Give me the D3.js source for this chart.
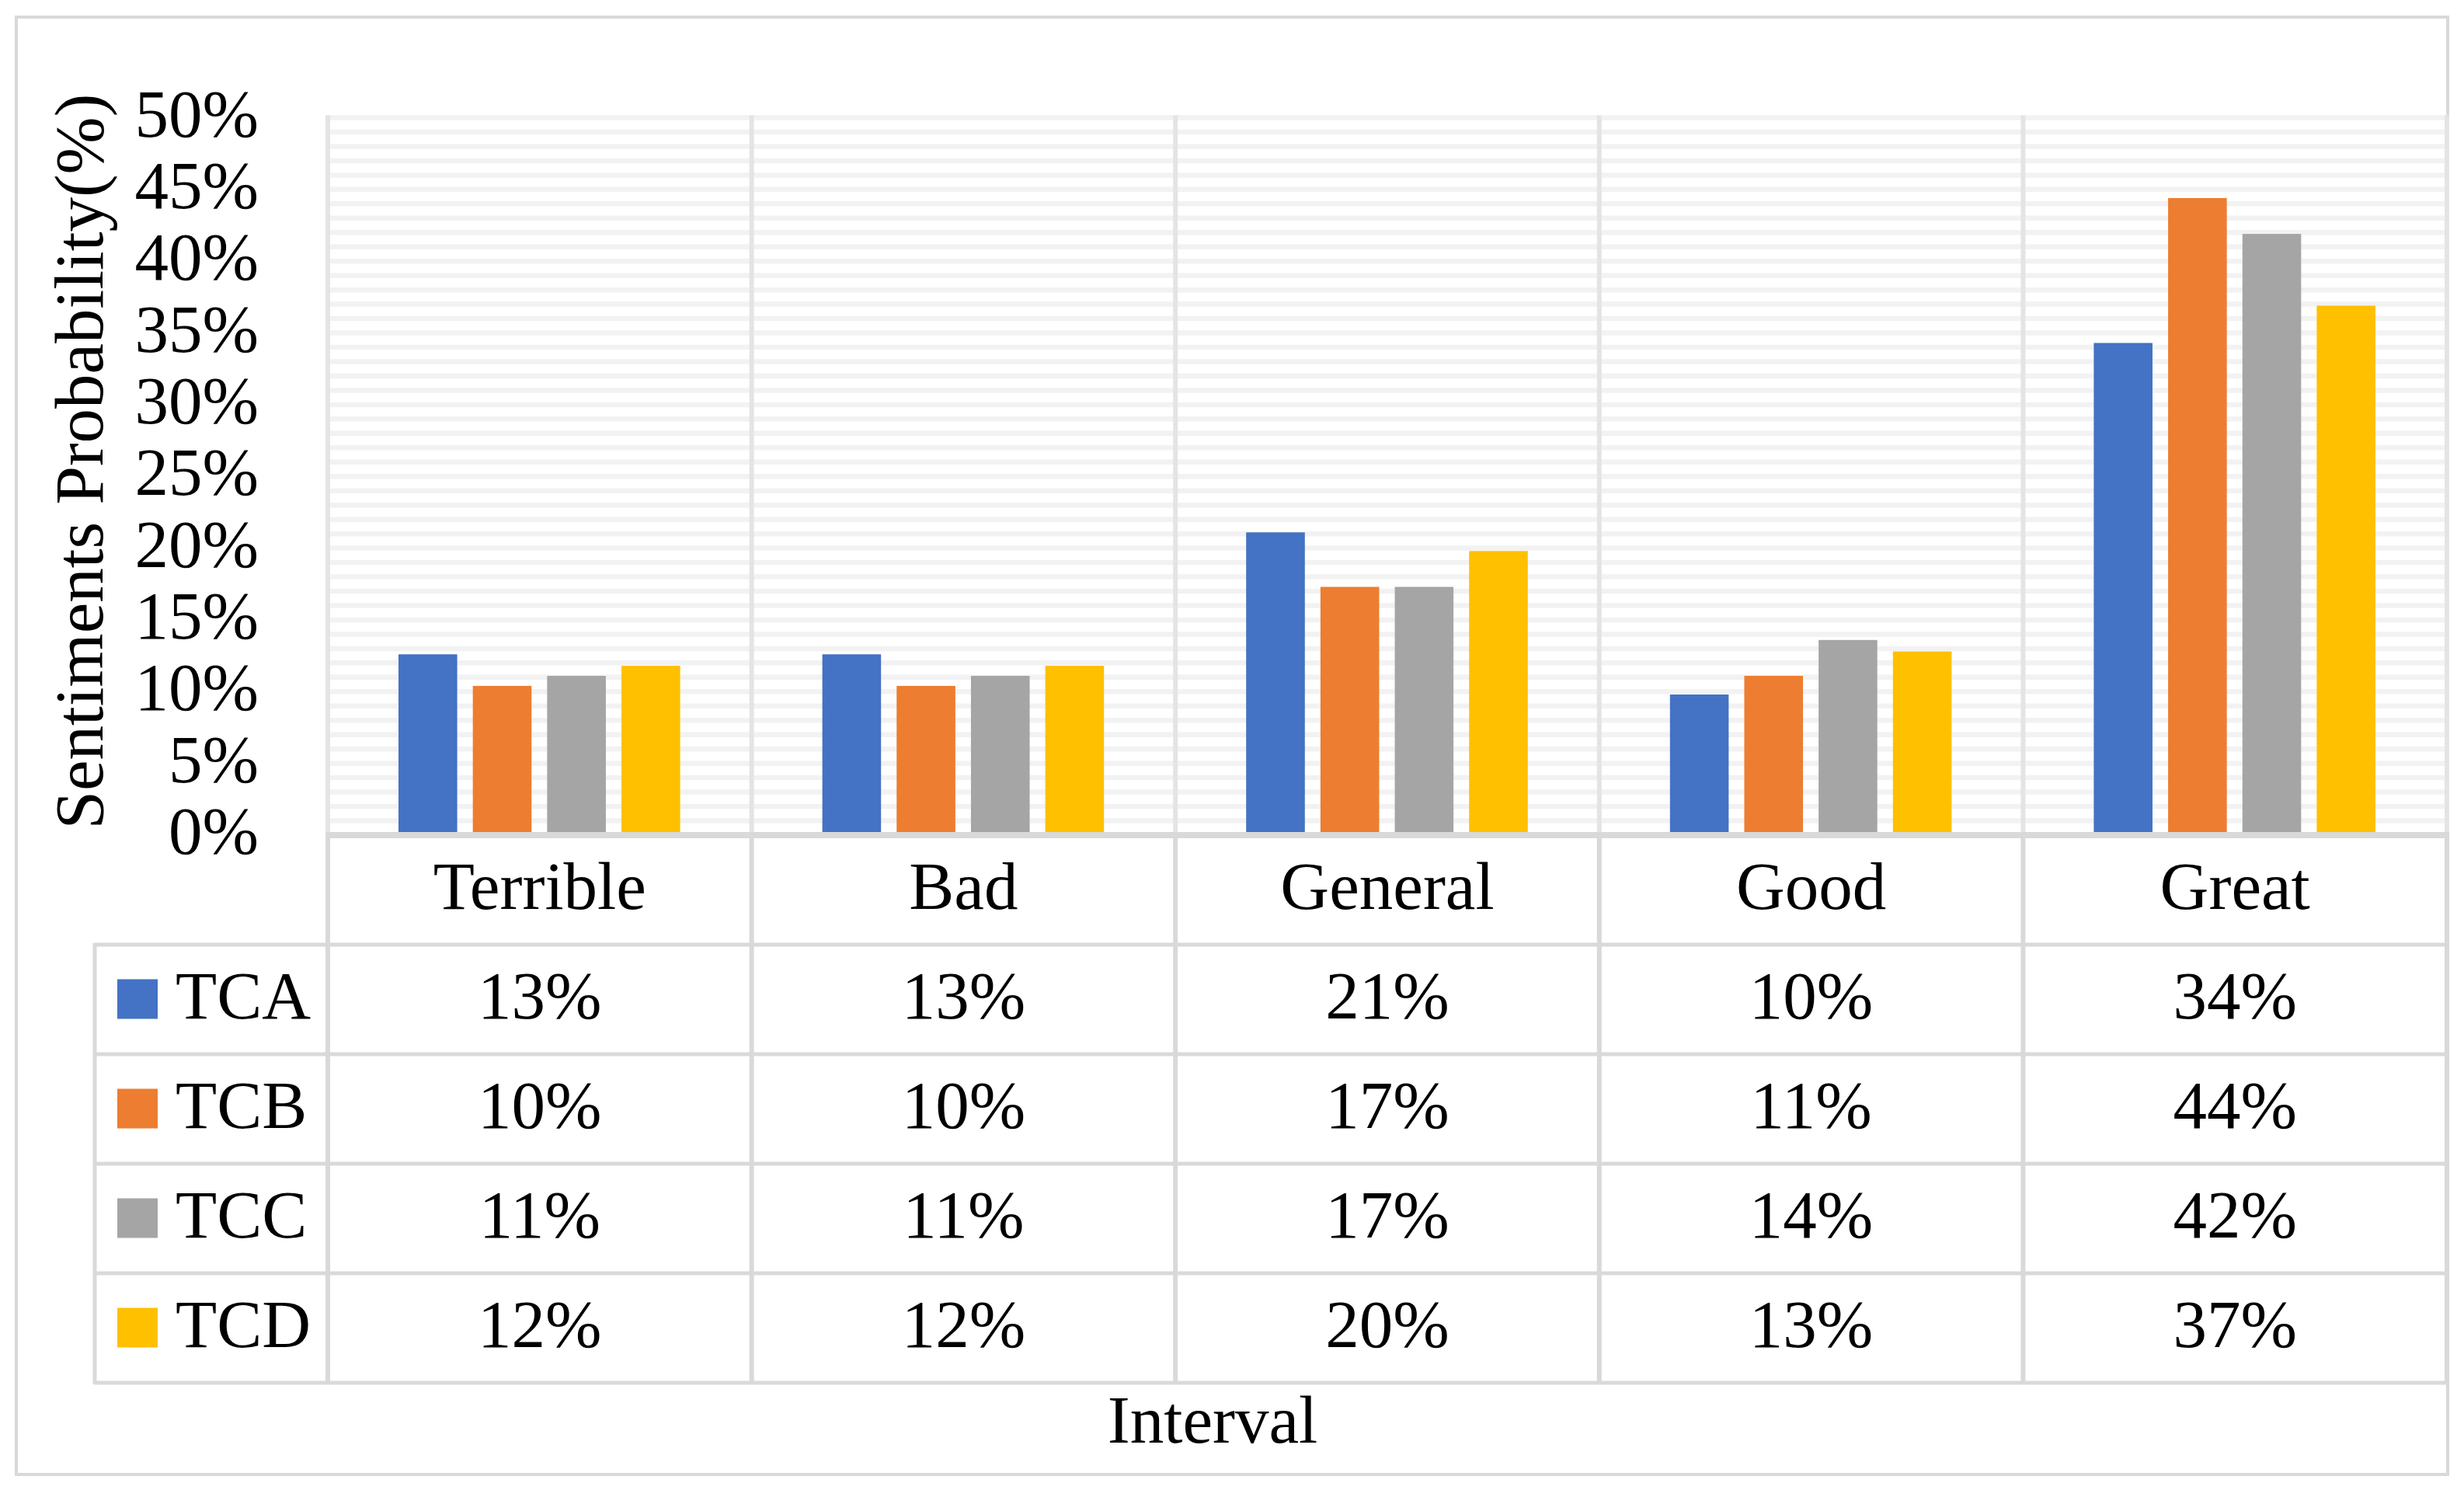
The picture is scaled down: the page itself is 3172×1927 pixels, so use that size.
<!DOCTYPE html>
<html>
<head>
<meta charset="utf-8">
<script src="https://cdn.jsdelivr.net/npm/d3@7"></script>
<style>
  body { margin: 0; background: #fff; }
  text { font-family: "Palatino Linotype", "Book Antiqua", Palatino, "Liberation Serif", serif; fill: #000; }
</style>
</head>
<body>
<script>
// categories and series
var categories = ["Terrible", "Bad", "General", "Good", "Great"];
var seriesNames = ["TCA", "TCB", "TCC", "TCD"];
var seriesColors = ["#4472C4", "#ED7D31", "#A5A5A5", "#FFC000"];

// values in percent
var tca = [12.6, 12.6, 21.1, 9.8, 34.3];
var tcb = [10.4, 10.4, 17.3, 11.1, 44.4];
var tcc = [11.1, 11.1, 17.3, 13.6, 41.9];
var tcd = [11.8, 11.8, 19.8, 12.8, 36.9];
var seriesValues = [tca, tcb, tcc, tcd];

var yTicks = [0, 5, 10, 15, 20, 25, 30, 35, 40, 45, 50];

var W = 3172, H = 1927;
var fontSize = 87;
var gridCol = "#d9d9d9";

var svg = d3.select("body").append("svg")
  .attr("width", W)
  .attr("height", H);

// plot geometry
var plotLeft = 422, plotRight = 3150, plotTop = 151.5, plotBottom = 1075;
var tableLeft = 122;
var rowTops = [1216, 1357, 1498, 1639];
var rowH = 141;
var tableBottom = rowTops[3] + rowH;

var x0 = d3.scaleBand().domain(categories).range([plotLeft, plotRight]).padding(0);
var x1 = d3.scaleBand().domain(seriesNames)
  .range([91, x0.bandwidth() - 92])
  .paddingInner(0.21);
var y = d3.scaleLinear().domain([0, 50]).range([plotBottom, plotTop]);

// outer border
svg.append("rect")
  .attr("x", 21).attr("y", 22)
  .attr("width", plotRight - 21 + 1).attr("height", 1898 - 22)
  .attr("fill", "none")
  .attr("stroke", gridCol)
  .attr("stroke-width", 4);

// minor gridlines (every 1%)
svg.append("g").selectAll("line")
  .data(d3.range(1, 51))
  .enter().append("line")
  .attr("x1", plotLeft).attr("x2", plotRight)
  .attr("y1", function(d){ return y(d); })
  .attr("y2", function(d){ return y(d); })
  .attr("stroke", "#f2f2f2")
  .attr("stroke-width", 6.5);

// vertical separators in plot area
var seps = categories.map(function(c){ return x0(c); }).concat([plotRight]);
svg.append("g").selectAll("line")
  .data(seps)
  .enter().append("line")
  .attr("x1", function(d){ return d; }).attr("x2", function(d){ return d; })
  .attr("y1", plotTop - 3).attr("y2", plotBottom)
  .attr("stroke", "#e4e4e4")
  .attr("stroke-width", 6);

// bars
var groups = svg.append("g").selectAll("g")
  .data(categories)
  .enter().append("g")
  .attr("transform", function(c){ return "translate(" + x0(c) + ",0)"; });

groups.selectAll("rect")
  .data(function(c, i){
    return seriesNames.map(function(s, j){ return {s: s, v: seriesValues[j][i], c: seriesColors[j]}; });
  })
  .enter().append("rect")
  .attr("x", function(d){ return x1(d.s); })
  .attr("width", x1.bandwidth())
  .attr("y", function(d){ return y(d.v); })
  .attr("height", function(d){ return y(0) - y(d.v); })
  .attr("fill", function(d){ return d.c; });

// x axis line
svg.append("line")
  .attr("x1", plotLeft - 3).attr("x2", plotRight + 3)
  .attr("y1", plotBottom).attr("y2", plotBottom)
  .attr("stroke", gridCol)
  .attr("stroke-width", 8);

// y axis labels
var yAxis = d3.axisLeft(y)
  .tickValues(yTicks)
  .tickSize(0)
  .tickPadding(plotLeft - 333)
  .tickFormat(function(d){ return d + "%"; });
var yg = svg.append("g")
  .attr("transform", "translate(" + plotLeft + ",0)")
  .call(yAxis);
yg.select(".domain").remove();
yg.selectAll("text")
  .attr("dy", "0.27em")
  .style("font-size", fontSize + "px")
  .attr("font-family", null)
  .attr("fill", "#000");

// y axis title
svg.append("text")
  .attr("transform", "translate(132," + 594 + ") rotate(-90)")
  .attr("text-anchor", "middle")
  .style("font-size", "89px")
  .text("Sentiments Probability(%)");

// data table lines
var tableLines = svg.append("g");
tableLines.selectAll("line.h")
  .data(rowTops.concat([tableBottom]))
  .enter().append("line")
  .attr("class", "h")
  .attr("x1", tableLeft).attr("x2", plotRight)
  .attr("y1", function(d){ return d; }).attr("y2", function(d){ return d; })
  .attr("stroke", gridCol)
  .attr("stroke-width", 5);
tableLines.selectAll("line.v")
  .data(seps)
  .enter().append("line")
  .attr("class", "v")
  .attr("x1", function(d){ return d; }).attr("x2", function(d){ return d; })
  .attr("y1", plotBottom).attr("y2", tableBottom + 2)
  .attr("stroke", gridCol)
  .attr("stroke-width", 6);
tableLines.append("line")
  .attr("x1", tableLeft).attr("x2", tableLeft)
  .attr("y1", rowTops[0] - 2).attr("y2", tableBottom + 2)
  .attr("stroke", gridCol)
  .attr("stroke-width", 5);

// category header labels
svg.append("g").selectAll("text")
  .data(categories)
  .enter().append("text")
  .attr("x", function(c){ return x0(c) + x0.bandwidth() / 2; })
  .attr("y", 1170)
  .attr("text-anchor", "middle")
  .style("font-size", fontSize + "px")
  .text(function(c){ return c; });

// legend keys + series names
var rows = svg.append("g").selectAll("g")
  .data(seriesNames)
  .enter().append("g")
  .attr("transform", function(s, j){ return "translate(0," + rowTops[j] + ")"; });

rows.append("rect")
  .attr("x", 151).attr("y", rowH / 2 - 26)
  .attr("width", 52).attr("height", 51)
  .attr("fill", function(s, j){ return seriesColors[j]; });

rows.append("text")
  .attr("x", 226).attr("y", rowH / 2 + 24)
  .style("font-size", fontSize + "px")
  .text(function(s){ return s; });

rows.selectAll("text.val")
  .data(function(s, j){ return seriesValues[j]; })
  .enter().append("text")
  .attr("class", "val")
  .attr("x", function(v, i){ return x0(categories[i]) + x0.bandwidth() / 2; })
  .attr("y", rowH / 2 + 24)
  .attr("text-anchor", "middle")
  .style("font-size", fontSize + "px")
  .text(function(v){ return Math.round(v) + "%"; });

// x axis title
svg.append("text")
  .attr("x", 1561).attr("y", 1857)
  .attr("text-anchor", "middle")
  .style("font-size", fontSize + "px")
  .text("Interval");
</script>
</body>
</html>
